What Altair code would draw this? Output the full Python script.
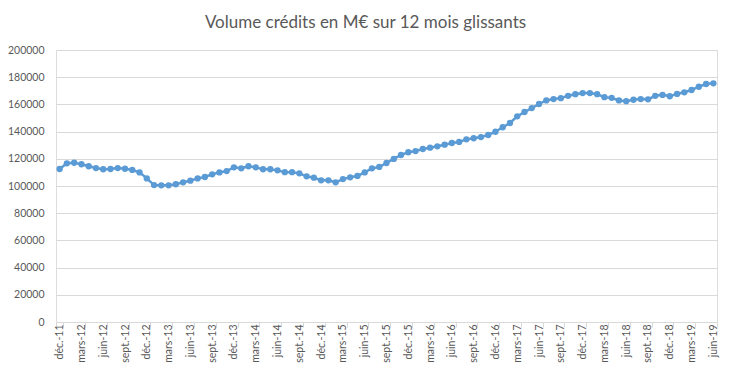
import altair as alt
import pandas as pd

months_fr = ["janv.", "févr.", "mars", "avr.", "mai", "juin",
             "juil.", "août", "sept.", "oct.", "nov.", "déc."]
categories = (["déc.-11"]
              + [f"{m}-{y}" for y in range(12, 19) for m in months_fr]
              + [f"{m}-19" for m in months_fr[:6]])

values = [
    112500, 116700, 117100, 116000, 114500, 113200, 112300, 112500, 113200, 112700,
    111800, 110000, 105600, 100700, 100500, 100500, 101300, 102700, 103900, 105600,
    106600, 108600, 110000, 111000, 113700, 113000, 114500, 113700, 112300, 112300,
    111500, 110200, 110200, 109300, 107100, 106100, 104200, 104200, 102700, 105100,
    106400, 107400, 110000, 113000, 114000, 116900, 119900, 122800, 124800, 125700,
    127200, 128200, 129200, 130400, 131600, 132400, 134300, 135100, 136000, 137500,
    139900, 143200, 146300, 151200, 154400, 157300, 160300, 162900, 163900, 164600,
    166300, 167500, 168300, 168300, 167500, 165300, 164800, 162900, 162400, 163400,
    163900, 163700, 166300, 167000, 166000, 167700, 168900, 170600, 173000, 175000,
    175500,
]

tick_labels = categories[::3]
y_ticks = list(range(0, 200001, 20000))

df = pd.DataFrame({"mois": categories, "volume": values})

color = "#5B9BD5"
txt = "#595959"
grid = "#D9D9D9"
font = "Lato"

base = alt.Chart(df).encode(
    x=alt.X(
        "mois:O",
        sort=categories,
        scale=alt.Scale(type="band", domain=categories, paddingInner=0, paddingOuter=0),
        axis=alt.Axis(
            title=None, values=tick_labels, labelAngle=-90, tickBand="extent",
            tickSize=5, tickColor=grid, domainColor=grid, labelPadding=-3,
            labelFont=font, labelFontSize=10.5, labelColor=txt, grid=False,
        ),
    ),
    y=alt.Y(
        "volume:Q",
        scale=alt.Scale(domain=[0, 200000], nice=False),
        axis=alt.Axis(
            title=None, values=y_ticks, format="d", ticks=False, domain=False,
            labelPadding=12, labelFont=font, labelFontSize=10.5, labelColor=txt,
            gridColor=grid, gridWidth=1,
        ),
    ),
)

line = base.mark_line(color=color, strokeWidth=2.5)
pts = base.mark_circle(color=color, size=40, opacity=1)

chart = (
    (line + pts)
    .properties(
        width=661, height=272,
        title=alt.TitleParams(
            "Volume crédits en M€ sur 12 mois glissants",
            font=font, fontSize=17, fontWeight="normal", color=txt,
            anchor="middle", dx=-21, offset=13,
        ),
        autosize=alt.AutoSizeParams(type="none"),
        padding={"left": 48, "top": 42, "right": 7, "bottom": 49},
    )
    .configure_view(stroke=None)
    .configure(background="white")
)

chart.save("out.html", embed_options={"renderer": "svg", "actions": False})
